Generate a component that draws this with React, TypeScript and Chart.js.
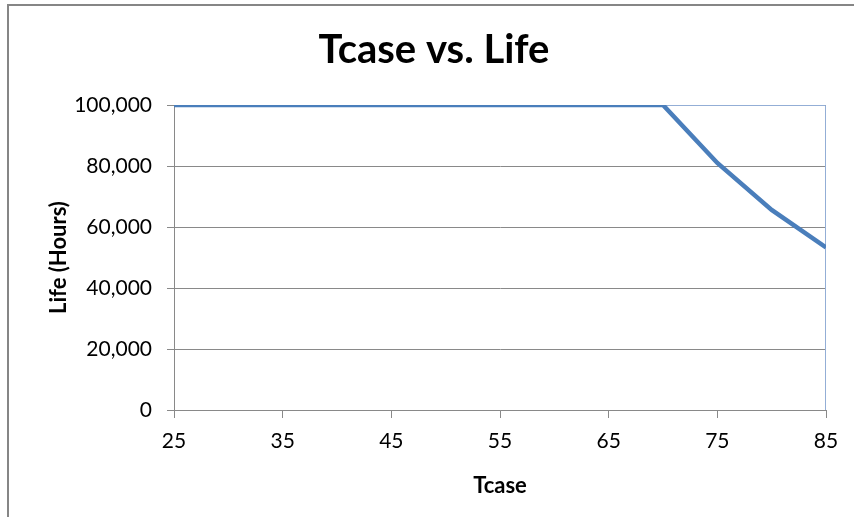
import { useEffect, useRef } from "react";
import { Chart, registerables } from "chart.js";

Chart.register(...registerables);

const chartTitle = "Tcase vs. Life";
const xAxisTitle = "Tcase";
const yAxisTitle = "Life (Hours)";
const tcase = [25, 30, 35, 40, 45, 50, 55, 60, 65, 70, 75, 80, 85];
const lifeHours = [100000, 100000, 100000, 100000, 100000, 100000, 100000, 100000, 100000, 100000, 81000, 65600, 53300];
const xTickValues = [25, 35, 45, 55, 65, 75, 85];
const yTickValues = [0, 20000, 40000, 60000, 80000, 100000];

const FONT = "Lato, 'Open Sans', sans-serif";

const plotBorder = {
  id: "plotBorder",
  beforeDatasetsDraw(chart: any, _args: any, opts: any) {
    const { ctx, chartArea } = chart;
    ctx.save();
    ctx.strokeStyle = opts.color;
    ctx.lineWidth = 1;
    ctx.beginPath();
    ctx.moveTo(chartArea.left, chartArea.top + 0.5);
    ctx.lineTo(chartArea.right - 0.5, chartArea.top + 0.5);
    ctx.lineTo(chartArea.right - 0.5, chartArea.bottom);
    ctx.stroke();
    ctx.restore();
  },
};

export default function App() {
  const ref = useRef<HTMLCanvasElement>(null);

  useEffect(() => {
    if (!ref.current) return;
    const chart = new Chart(ref.current, {
      type: "line",
      data: {
        datasets: [
          {
            label: "Life",
            data: tcase.map((t, i) => ({ x: t, y: lifeHours[i] })),
            borderColor: "#4A7EBB",
            borderWidth: 4.5,
            pointRadius: 0,
            tension: 0,
            fill: false,
          },
        ],
      },
      options: {
        animation: false,
        responsive: false,
        maintainAspectRatio: false,
        layout: { padding: { top: 0, right: 28, left: 33, bottom: 0 } },
        plugins: {
          legend: { display: false },
          tooltip: { enabled: false },
          title: {
            display: true,
            text: chartTitle,
            color: "#000",
            font: { family: FONT, size: 40, weight: "bold", lineHeight: 1.2 },
            padding: { top: 19.6, bottom: 31.4 },
          },
          plotBorder: { color: "#93AED6" },
        } as any,
        scales: {
          x: {
            type: "linear",
            min: 25,
            max: 85,
            afterBuildTicks: (s: any) => {
              s.ticks = xTickValues.map((v) => ({ value: v }));
            },
            afterFit: (s: any) => {
              s.height = 107;
            },
            grid: { drawOnChartArea: false, drawTicks: true, tickLength: 8, color: "#898989" },
            border: { color: "#898989", width: 1 },
            ticks: { color: "#000", padding: 11, font: { family: FONT, size: 21 }, maxRotation: 0 },
            title: {
              display: true,
              text: xAxisTitle,
              color: "#000",
              font: { family: FONT, size: 22, weight: "bold" },
              padding: { top: 4, bottom: 17.5 },
            },
          },
          y: {
            type: "linear",
            min: 0,
            max: 100000,
            afterBuildTicks: (s: any) => {
              s.ticks = yTickValues.map((v) => ({ value: v }));
            },
            afterFit: (s: any) => {
              s.width = 132;
            },
            grid: { color: "#898989", tickLength: 7, drawTicks: true },
            border: { color: "#898989", width: 1 },
            ticks: {
              color: "#000",
              padding: 15,
              font: { family: FONT, size: 21 },
              callback: (v: any) => Number(v).toLocaleString("en-US"),
            },
            title: {
              display: true,
              text: yAxisTitle,
              color: "#000",
              font: { family: FONT, size: 22, weight: "bold", lineHeight: 1.05 },
              padding: { top: 5, bottom: 0 },
            },
          },
        },
      },
      plugins: [plotBorder],
    });
    return () => chart.destroy();
  }, []);

  return (
    <div style={{ position: "absolute", left: 0, top: 0, width: 854, height: 517, overflow: "hidden", background: "#fff" }}>
      <div
        style={{
          position: "absolute",
          left: 7,
          top: 4,
          width: 845,
          height: 511,
          borderLeft: "2px solid #868686",
          borderTop: "2px solid #868686",
        }}
      >
        <canvas ref={ref} width={845} height={511} style={{ display: "block", width: 845, height: 511 }} />
      </div>
    </div>
  );
}
